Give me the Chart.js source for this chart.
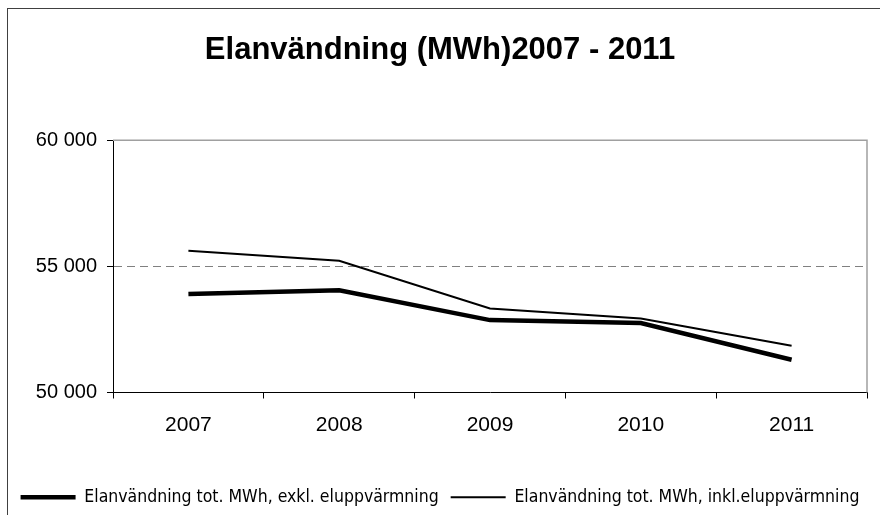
<!DOCTYPE html>
<html>
<head>
<meta charset="utf-8">
<script src="https://cdn.jsdelivr.net/npm/chart.js@4/dist/chart.umd.min.js"></script>
<style>
  html, body { margin: 0; padding: 0; background: #fff; overflow: hidden; }
  #wrap { position: relative; width: 880px; height: 515px; overflow: hidden; }
  #frame { position: absolute; left: 7px; top: 8px; width: 1000px; height: 1000px; border: 1px solid #404040; box-sizing: border-box; }
  canvas { position: absolute; left: 0; top: 0; }
</style>
</head>
<body>
<div id="wrap">
  <div id="frame"></div>
  <canvas id="c" width="880" height="516"></canvas>
</div>
<script>
const titleText = 'Elanvändning (MWh)2007 - 2011';
const years = ['2007', '2008', '2009', '2010', '2011'];
const exklLabel = 'Elanvändning tot. MWh, exkl. eluppvärmning';
const inklLabel = 'Elanvändning tot. MWh, inkl.eluppvärmning';
const exklValues = [53900, 54050, 52870, 52750, 51300];
const inklValues = [55620, 55220, 53330, 52930, 51850];
const yTicks = [50000, 55000, 60000];

const FONT = "'Liberation Sans', Arial, sans-serif";
const NARROW = "'Liberation Sans Narrow', 'Arial Narrow', 'DejaVu Sans Condensed', 'Liberation Sans', sans-serif";

const plotBox = {
  id: 'plotBox',
  afterDraw(chart) {
    const {ctx, chartArea: a} = chart;
    ctx.save();
    ctx.strokeStyle = '#a0a0a0';
    ctx.lineWidth = 1.5;
    ctx.beginPath();
    ctx.moveTo(a.left, a.top);
    ctx.lineTo(a.right, a.top);
    ctx.lineTo(a.right, a.bottom);
    ctx.stroke();
    ctx.restore();
  }
};

new Chart(document.getElementById('c'), {
  type: 'line',
  data: {
    labels: years,
    datasets: [
      { label: exklLabel, data: exklValues, borderColor: '#000', backgroundColor: '#000', borderWidth: 4.5, pointRadius: 0, tension: 0, fill: false },
      { label: inklLabel, data: inklValues, borderColor: '#000', backgroundColor: '#000', borderWidth: 2, pointRadius: 0, tension: 0, fill: false }
    ]
  },
  options: {
    responsive: false,
    animation: false,
    layout: { padding: { top: 0, left: 0, right: 0, bottom: 0 } },
    plugins: {
      tooltip: { enabled: false },
      title: {
        display: true,
        text: titleText,
        color: '#000',
        font: { family: FONT, size: 31, weight: 'bold', lineHeight: 1.2 },
        padding: { top: 32, bottom: 71 }
      },
      legend: {
        position: 'bottom',
        labels: {
          usePointStyle: true,
          pointStyle: 'line',
          pointStyleWidth: 55,
          color: '#000',
          padding: 12,
          font: { family: NARROW, size: 17.5 }
        }
      }
    },
    scales: {
      x: {
        offset: true,
        afterFit(scale) { scale.height = 84; },
        grid: { offset: true, drawOnChartArea: false, drawTicks: true, tickLength: 6, tickColor: '#000', color: '#000' },
        border: { display: true, color: '#000', width: 1 },
        ticks: { color: '#000', font: { family: FONT, size: 21 }, padding: 14, maxRotation: 0 }
      },
      y: {
        min: 50000,
        max: 60000,
        afterBuildTicks(scale) { scale.ticks = yTicks.map(v => ({ value: v })); },
        afterFit(scale) { scale.width = 113; },
        grid: {
          drawOnChartArea: true,
          color: (ctx) => (ctx.tick && ctx.tick.value === 55000) ? '#808080' : 'rgba(0,0,0,0)',
          lineWidth: 1,
          tickLength: 6,
          tickColor: '#000',
          tickBorderDash: []
        },
        border: { display: true, color: '#000', width: 1, dash: [8, 5] },
        ticks: {
          color: '#000',
          font: { family: FONT, size: 20 },
          padding: 10,
          callback: (v) => String(v).replace(/\B(?=(\d{3})+(?!\d))/g, ' ')
        }
      },
      yRightPad: {
        position: 'right',
        display: true,
        min: 50000,
        max: 60000,
        afterFit(scale) { scale.width = 13; },
        grid: { display: false, drawOnChartArea: false },
        border: { display: false },
        ticks: { display: false }
      }
    }
  },
  plugins: [plotBox]
});
</script>
</body>
</html>
